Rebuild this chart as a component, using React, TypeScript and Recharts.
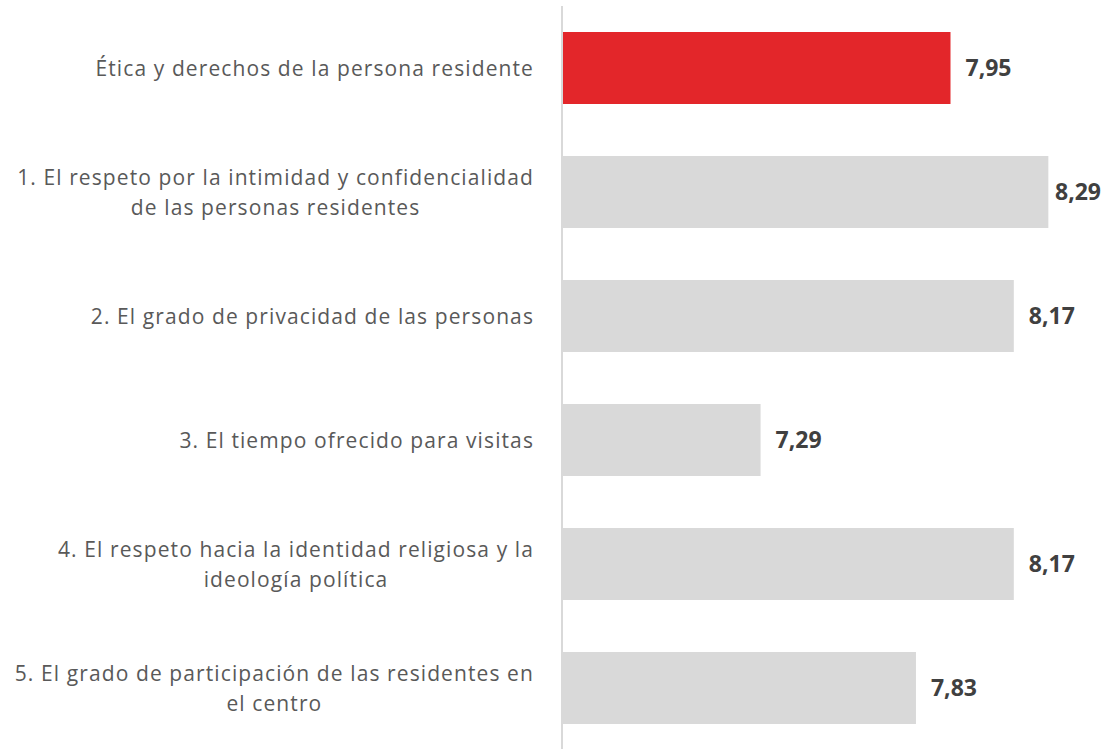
import { Bar, BarChart, Cell, LabelList, XAxis, YAxis } from "recharts"

const categories = [
  "Ética y derechos de la persona residente",
  "1. El respeto por la intimidad y confidencialidad de las personas residentes",
  "2. El grado de privacidad de las personas",
  "3. El tiempo ofrecido para visitas",
  "4. El respeto hacia la identidad religiosa y la ideología política",
  "5. El grado de participación de las residentes en el centro",
]
const scores = [7.95, 8.29, 8.17, 7.29, 8.17, 7.83]

const data = categories.map((name, i) => ({ name, score: scores[i] }))

const WIDTH = 1107
const HEIGHT = 749
const LABEL_FONT = "21px 'Open Sans', sans-serif"
const LETTER_SP = 1.1

// greedy word wrap, roughly how the spreadsheet broke the lines
function wrap(text: string, max = 50) {
  const lines: string[] = []
  let cur = ""
  for (const w of text.split(" ")) {
    const next = cur ? cur + " " + w : w
    if (next.length > max && cur) {
      lines.push(cur)
      cur = w
    } else cur = next
  }
  if (cur) lines.push(cur)
  return lines
}

let ctx: CanvasRenderingContext2D | null = null
function textWidth(s: string) {
  if (!ctx) ctx = document.createElement("canvas").getContext("2d")
  if (!ctx) return s.length * 11
  ctx.font = LABEL_FONT
  return ctx.measureText(s).width + s.length * LETTER_SP
}

function CategoryTick(props: any) {
  const { x, y, payload } = props
  const lines = wrap(payload.value)
  const lh = 30
  const start = y - ((lines.length - 1) * lh) / 2
  // lines are centred inside a block that is right-aligned to the axis
  const blockW = Math.max(...lines.map(textWidth))
  const cx = lines.length > 1 ? x - blockW / 2 : x
  return (
    <text
      x={cx}
      y={start}
      textAnchor={lines.length > 1 ? "middle" : "end"}
      fill="#595959"
      fontSize={21}
      letterSpacing={LETTER_SP}
      fontFamily="'Open Sans', sans-serif"
    >
      {lines.map((l, i) => (
        <tspan key={i} x={cx} y={start + i * lh} dy="0.36em">
          {l}
        </tspan>
      ))}
    </text>
  )
}

function ValueLabel(props: any) {
  const { x, y, width, height, value } = props
  const tx = Math.min(x + width + 15, WIDTH - 52)
  return (
    <text
      x={tx}
      y={y + height / 2}
      dy="0.36em"
      fill="#404040"
      fontSize={23}
      fontWeight="bold"
      fontFamily="'Open Sans', sans-serif"
    >
      {Number(value).toFixed(2).replace(".", ",")}
    </text>
  )
}

export default function App() {
  return (
    <div style={{ position: "absolute", left: 0, top: 0, background: "#fff" }}>
      <BarChart
        width={WIDTH}
        height={HEIGHT}
        data={data}
        layout="vertical"
        margin={{ top: 6, right: 27, left: 0, bottom: -1 }}
        barSize={72}
      >
        <XAxis type="number" domain={[6.6, 8.4]} hide />
        <YAxis
          type="category"
          dataKey="name"
          width={562}
          axisLine={{ stroke: "#d9d9d9", strokeWidth: 2 }}
          tickLine={false}
          tickSize={0}
          tickMargin={28}
          tick={<CategoryTick />}
          interval={0}
        />
        <Bar dataKey="score" isAnimationActive={false}>
          {data.map((_, i) => (
            <Cell key={i} fill={i === 0 ? "#e3262a" : "#d9d9d9"} />
          ))}
          <LabelList dataKey="score" content={<ValueLabel />} />
        </Bar>
      </BarChart>
    </div>
  )
}
